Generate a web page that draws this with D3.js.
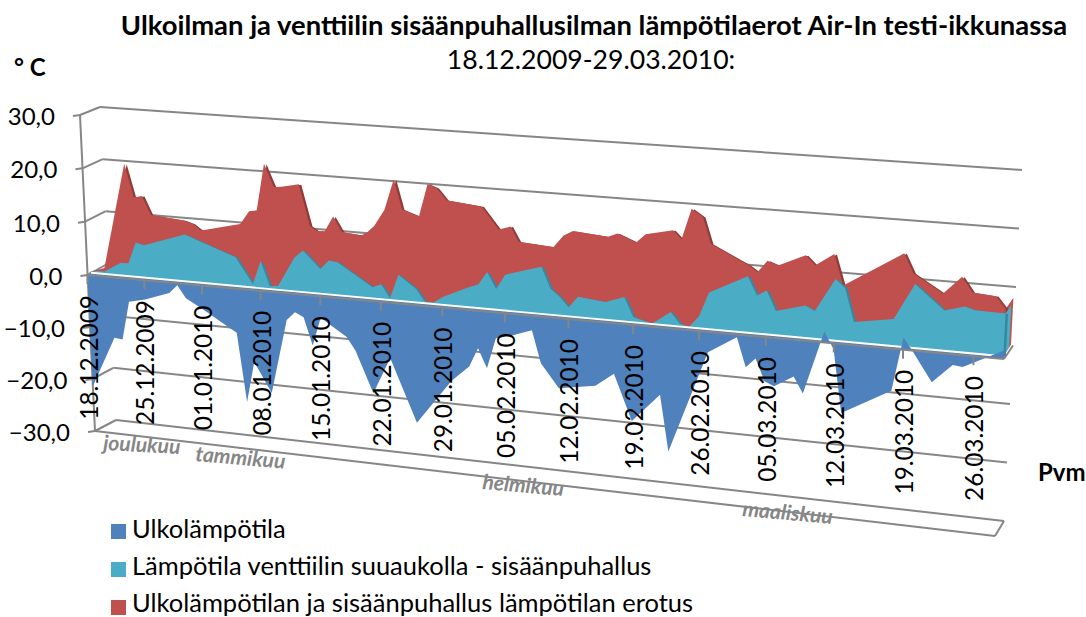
<!DOCTYPE html>
<html>
<head>
<meta charset="utf-8">
<script src="https://cdn.jsdelivr.net/npm/d3@7"></script>
<style>
  html, body { margin: 0; padding: 0; background: #fff; overflow: hidden; }
  text { font-family: Lato, "Open Sans", sans-serif; fill: #000; }
</style>
</head>
<body>
<div id="chart"></div>
<script>
const valueTicks = [30, 20, 10, 0, -10, -20, -30];
const dateLabels = ['18.12.2009', '25.12.2009', '01.01.2010', '08.01.2010', '15.01.2010',
  '22.01.2010', '29.01.2010', '05.02.2010', '12.02.2010', '19.02.2010', '26.02.2010',
  '05.03.2010', '12.03.2010', '19.03.2010', '26.03.2010'];
const monthNames = ['joulukuu', 'tammikuu', 'helmikuu', 'maaliskuu'];
const seriesNames = ['Ulkolämpötila', 'Lämpötila venttiilin suuaukolla - sisäänpuhallus',
  'Ulkolämpötilan ja sisäänpuhallus lämpötilan erotus'];

// day numbers count from 18.12.2009, only the corners of each outline were read
const outdoorDays = [0, 3, 4, 5, 7, 10, 11, 12, 14, 17, 18, 19, 20, 22, 24, 25, 26, 27, 28, 31, 32, 34, 36, 39, 43,
  45, 46, 47, 48, 50, 52, 53, 55, 59, 61, 63, 66, 67, 71, 74, 75, 76, 77, 78, 80, 81, 83, 84, 85, 90, 91, 92, 94, 96,
  97, 100, 101];
const outdoorValues = [-21.4, -11.6, -11.8, -4.4, -3.7, -2, -0.4, -2.7, -4.5, -7.4, -8.3, -21.2, -13.5, -19, -5, -3.4,
  -4.2, -9.3, -4, -7.1, -9.5, -17, -10.2, -21.6, -13.2, -10.3, -6.8, -10.3, -4.7, -3.8, -2.6, -8.4, -12.6, -11.5, -9,
  -17.1, -11.9, -21.8, -3.6, -0.5, -5.6, -3.9, -7.7, -8.4, -6.4, -9.2, 1.9, -1, -11.9, -7.2, 2.1, -0.2, -5.1, -1.8,
  -2, 0.6, 1.5];

const inletDays = [0, 1, 2, 4, 5, 6, 7, 12, 18, 20, 21, 22, 23, 25, 26, 28, 29, 30, 34, 35, 36, 37, 39, 40, 41, 42,
  45, 46, 47, 48, 49, 53, 54, 55, 56, 57, 60, 62, 63, 65, 67, 68, 69, 70, 71, 75, 76, 77, 78, 81, 82, 84, 85, 86, 90,
  92, 95, 97, 98, 101];
const inletValues = [0, 0.4, 0.4, 2.3, 2.4, 6.4, 6, 8.7, 5.3, 0.6, 5, 0.5, 0.7, 6.2, 7.6, 4.5, 6.2, 6, 2, 2.7, 0.3,
  4.7, 2.4, 0.2, 0.3, 1.4, 3.6, 4.2, 6.6, 3.7, 6.4, 8.4, 4.6, 3.3, 1.6, 3.6, 3.1, 4.3, 0.9, 0, 2.4, 0.4, 0.1, 2.1, 6.4,
  9.8, 6.6, 7.6, 4.2, 5.6, 4.8, 10.6, 9.2, 3.5, 4.6, 10.9, 6.8, 7.8, 7.3, 7.2];

const diffDays = [0, 2, 5, 6, 7, 8, 12, 13, 14, 18.7, 19.8, 20.7, 21.7, 22.8, 23.9, 25.7, 26.9, 27.7, 28.6, 29.6, 30.6,
  32.8, 33.4, 34.3, 35.5, 36.6, 37.5, 39.4, 40.4, 41.4, 42.5, 46.4, 48.3, 49.6, 50.5, 54.3, 55.4, 56.4, 60.2, 61.2,
  63.2, 64.2, 67.1, 68, 69, 70.2, 71.1, 75.1, 76, 77, 78.1, 80.9, 81.9, 83.8, 84.8, 90.8, 91.8, 94.8, 96.6, 97.7,
  100, 101];
const diffValues = [0, 1.1, 21, 14.8, 15.2, 11.8, 11.3, 10.8, 9.7, 11.5, 14, 14.3, 23, 18.8, 19.1, 19.7, 12.2, 11.4,
  11.5, 14.3, 11.6, 11.3, 11.8, 13.2, 16.3, 22, 16.6, 15.6, 21.6, 21, 18.9, 18.3, 14.4, 15.1, 12.5, 12.1, 14.3, 15.2,
  14.7, 15.4, 14.1, 15.7, 16.8, 15.3, 20.8, 19.5, 14.9, 11.7, 10.7, 12.8, 12.1, 14.3, 12.7, 14.9, 9.6, 16, 12.7, 9.7,
  12.8, 10.3, 10, 8];

const width = 1086, height = 617;
const colors = ['#4f81bd', '#4bacc6', '#c0504d'];
const darkColors = ['#3f6a9e', '#37889e', '#8f3b39'];
const gridColor = '#868686';
const lastDay = 101;
const seriesDepth = 0.15;

const parseDate = d3.timeParse('%d.%m.%Y');
const firstDate = parseDate(dateLabels[0]);

// the plot is a box seen in perspective: corners of its front and back faces
const frontLeft = d3.scaleLinear().domain([30, 0, -30]).range([[80, 115], [87.5, 275], [95, 431]]);
const frontRight = d3.scaleLinear().domain([30, 0, -30]).range([[1013, 182], [1004, 359], [995, 536]]);
const backLeft = d3.scaleLinear().domain([30, -30]).range([[100, 107], [116, 420]]);
const backRight = d3.scaleLinear().domain([30, -30]).range([[1022, 170], [1004, 521]]);

// later days are nearer to the viewer, so a week gets wider to the right
const nearness = 1.127;
function along(day) {
  const u = day / lastDay;
  return u / (nearness - u * (nearness - 1));
}

function project(day, value, depth) {
  const p = along(day);
  const front = d3.interpolate(frontLeft(value), frontRight(value))(p);
  const back = d3.interpolate(backLeft(value), backRight(value))(p);
  return d3.interpolate(front, back)(depth);
}

function toPoints(days, values) {
  return days.map((day, i) => ({ day: day, value: values[i] }));
}

function outline(depth) {
  return d3.area()
    .x0(d => project(d.day, 0, depth)[0])
    .y0(d => project(d.day, 0, depth)[1])
    .x1(d => project(d.day, d.value, depth)[0])
    .y1(d => project(d.day, d.value, depth)[1]);
}

const svg = d3.select('#chart').append('svg')
  .attr('width', width)
  .attr('height', height);

function gridLine(a, b, w) {
  svg.append('line')
    .attr('x1', a[0]).attr('y1', a[1])
    .attr('x2', b[0]).attr('y2', b[1])
    .attr('stroke', gridColor)
    .attr('stroke-width', w || 2);
}

// walls and floor
valueTicks.forEach((v) => {
  if(v !== 0) {
    gridLine(project(0, v, 1), project(lastDay, v, 1));
  }
  gridLine(project(0, v, 0), project(0, v, 1));
  const start = project(0, v, 0);
  gridLine([start[0] - 7, start[1] + 1], start);
});
gridLine(project(0, 30, 0), project(0, -30, 0));
gridLine(project(0, -30, 0), project(lastDay, -30, 0));
gridLine(project(lastDay, -30, 0), project(lastDay, -30, 1));

// value labels
svg.selectAll('.value-label').data(valueTicks).enter().append('text')
  .attr('class', 'value-label')
  .attr('x', d => project(0, d, 0)[0] - 25)
  .attr('y', d => project(0, d, 0)[1] + 10)
  .attr('text-anchor', 'end')
  .style('font-size', '24px')
  .text(d => d3.format('.1f')(d).replace('.', ','));

// red and teal stand a little behind the axis
const areas = svg.append('g').attr('transform', 'translate(-2,-1)');

// one extruded area: darker side showing to the right, then the face
function drawSeries(points, idx) {
  areas.append('path').datum(points)
    .attr('fill', darkColors[idx])
    .attr('transform', 'translate(2.5,0.5)')
    .attr('d', outline(seriesDepth));
  areas.append('path').datum(points)
    .attr('fill', colors[idx])
    .attr('d', outline(seriesDepth));
}

function endFace(points, idx, rear, color) {
  const last = points[points.length - 1];
  const corners = [
    project(last.day, 0, seriesDepth),
    project(last.day, last.value, seriesDepth),
    project(last.day, last.value, rear),
    project(last.day, 0, rear)
  ];
  areas.append('polygon')
    .attr('points', corners.map(c => c.join(',')).join(' '))
    .attr('fill', color || colors[idx]);
}

const outdoor = toPoints(outdoorDays, outdoorValues);
const inlet = toPoints(inletDays, inletValues);
const diff = toPoints(diffDays, diffValues);

gridLine(project(lastDay, 0, 0), project(lastDay, 0, 1));
endFace(diff, 2, 1, colors[2]);
drawSeries(diff, 2);
endFace(inlet, 1, 0.8);
drawSeries(inlet, 1);

function baseStrip(depth, color, w) {
  const a = project(0, 0, depth), b = project(lastDay - 1, 0, depth);
  svg.append('line')
    .attr('x1', a[0]).attr('y1', a[1])
    .attr('x2', b[0]).attr('y2', b[1])
    .attr('stroke', color)
    .attr('stroke-width', w);
}

// white strip under the areas, thin blue one below it
baseStrip(seriesDepth + 0.02, '#fff', 2.6);
baseStrip(0.05, colors[0], 2);

svg.append('path').datum(outdoor)
  .attr('fill', colors[0])
  .attr('d', outline(0));

// date axis
gridLine(project(0, 0, 0), project(lastDay, 0, 0));
dateLabels.forEach((label) => {
  const day = d3.timeDay.count(firstDate, parseDate(label));
  const pos = project(day, 0, 0);
  gridLine(pos, [pos[0], pos[1] + 9]);
  svg.append('text')
    .attr('transform', `translate(${pos[0] + 10},${pos[1] + 20}) rotate(-90)`)
    .attr('text-anchor', 'end')
    .style('font-size', '24.4px')
    .text(label);
});

// month names lie on the floor strip
const monthPlaces = [[103, 450, 3], [195, 461, 5], [482, 489, 5], [742, 516, 5]];
monthNames.forEach((name, i) => {
  svg.append('text')
    .attr('transform', `translate(${monthPlaces[i][0]},${monthPlaces[i][1]}) rotate(${monthPlaces[i][2]})`)
    .style('font-size', '21px')
    .style('font-weight', 700)
    .style('font-style', 'italic')
    .style('fill', '#868686')
    .text(name);
});

// titles
svg.append('text')
  .attr('x', 594).attr('y', 35)
  .attr('text-anchor', 'middle')
  .style('font-size', '27.4px')
  .style('font-weight', 700)
  .text('Ulkoilman ja venttiilin sisäänpuhallusilman lämpötilaerot Air-In testi-ikkunassa');
svg.append('text')
  .attr('x', 591).attr('y', 69)
  .attr('text-anchor', 'middle')
  .style('font-size', '26.6px')
  .text('18.12.2009-29.03.2010:');
svg.append('text')
  .attr('x', 14).attr('y', 76)
  .style('font-size', '24px')
  .style('font-weight', 700)
  .text('° C');
svg.append('text')
  .attr('x', 1038).attr('y', 481)
  .style('font-size', '24px')
  .style('font-weight', 700)
  .text('Pvm');

// legend
seriesNames.forEach((name, i) => {
  const top = 524 + i * 38;
  svg.append('rect')
    .attr('x', 111).attr('y', top)
    .attr('width', 15).attr('height', 15)
    .attr('fill', colors[i]);
  svg.append('text')
    .attr('x', 132).attr('y', 538 + i * 37)
    .style('font-size', '25.5px')
    .text(name);
});
</script>
</body>
</html>
